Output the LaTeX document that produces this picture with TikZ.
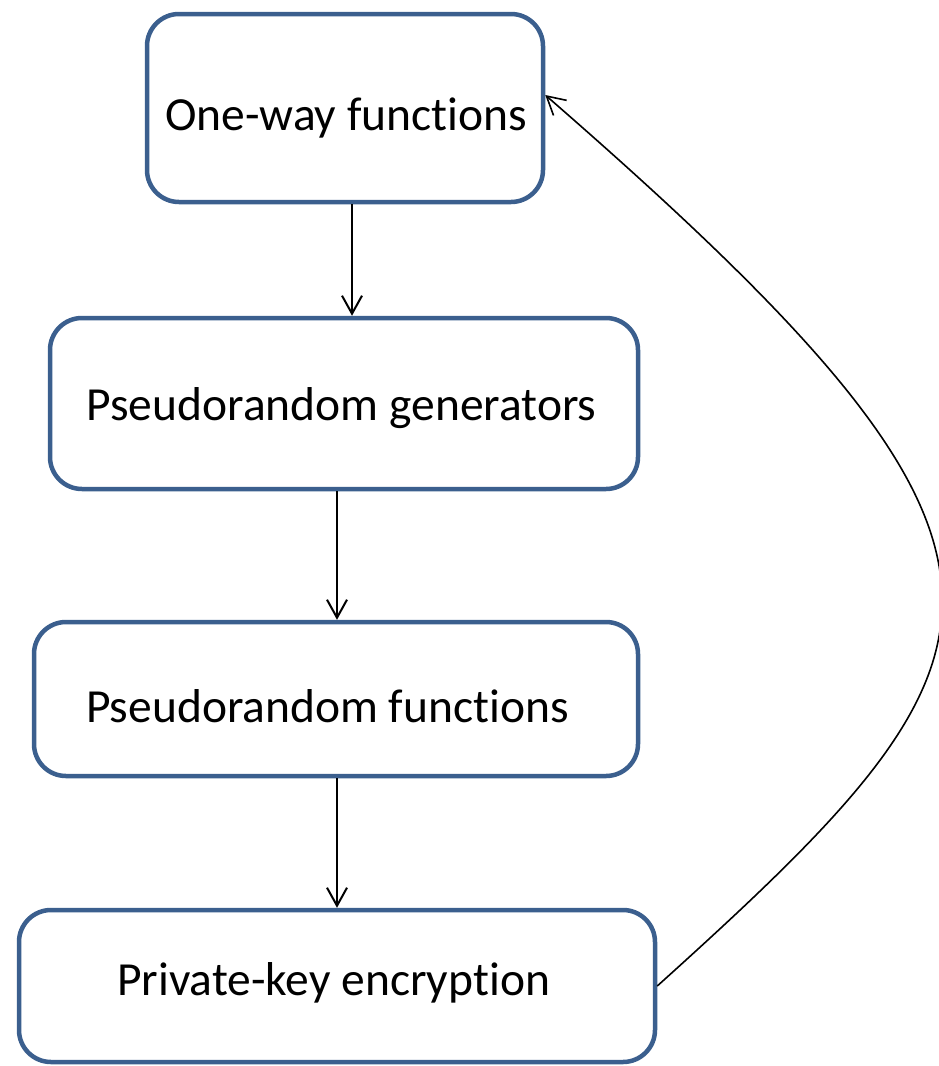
\documentclass[tikz,border=0pt]{standalone}
\usepackage{fontspec}
\setmainfont{Carlito}
\usetikzlibrary{arrows.meta,calc}
\definecolor{boxline}{RGB}{59,95,142}
% keep "t" and "i" as separate letters (Carlito would join them)
\newcommand{\sepTI}{t\kern0pt i}
\tikzset{
  stage/.style={draw=boxline, line width=4.5pt, rounded corners=32pt, fill=white, inner sep=0pt},
  caption/.style={anchor=base, inner sep=0pt, font=\fontsize{47.5}{57}\selectfont},
  flow/.style={draw=black, line width=2pt, -{Straight Barb[length=18pt,width=20pt,line width=2pt]}},
  back/.style={draw=black, line width=1.6pt, -{Straight Barb[length=18pt,width=20pt,line width=1.6pt]}}
}
\begin{document}
\begin{tikzpicture}[x=1pt,y=-1pt]
\useasboundingbox (0,0) rectangle (938,1066);

\node[stage, minimum width=396pt, minimum height=188pt] (owf) at (345,108) {};
\node[stage, minimum width=588pt, minimum height=171pt] (prg) at (344,403.5) {};
\node[stage, minimum width=604pt, minimum height=154pt] (prf) at (336,699) {};
\node[stage, minimum width=636pt, minimum height=152pt] (pke) at (337,986) {};

\node[caption] (owft) at (346,130) {One-way func\sepTI ons};
\node[caption] (prgt) at (341.5,420) {Pseudorandom generators};
\node[caption] (prft) at (327.5,722) {Pseudorandom func\sepTI ons};
\node[caption] (pket) at (333.5,995) {Private-key encryp\sepTI on};

\draw[flow] ([xshift=7pt]owf.south) -- ([xshift=7pt]owf.south |- prg.north);
\draw[flow] ([xshift=-7pt]prg.south) -- ([xshift=-7pt]prg.south |- prf.north);
\draw[flow] ([xshift=1pt]prf.south) -- ([xshift=1pt]prf.south |- pke.north);

\draw[back] (pke.east) .. controls (1030,650) and (1080,560) .. ([yshift=13pt]owf.east);
\end{tikzpicture}
\end{document}
